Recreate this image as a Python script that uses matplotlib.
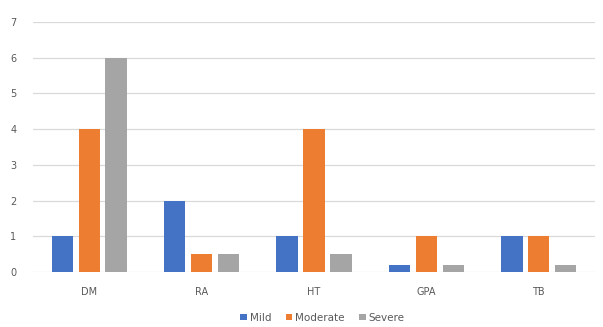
import matplotlib
matplotlib.use('Agg')
import matplotlib.pyplot as plt
import numpy as np

categories = ['DM', 'RA', 'HT', 'GPA', 'TB']
mild = [1, 2, 1, 0.2, 1]
moderate = [4, 0.5, 4, 1, 1]
severe = [6, 0.5, 0.5, 0.2, 0.2]
series = [('Mild', mild, '#4472C4'),
          ('Moderate', moderate, '#ED7D31'),
          ('Severe', severe, '#A5A5A5')]

fig = plt.figure(figsize=(6.03, 3.27), dpi=100)
ax = fig.add_axes([33 / 603, 1 - 272 / 327, 562 / 603, 250 / 327])

x = np.arange(len(categories))
width = 0.19
step = 0.24
for i, (name, vals, color) in enumerate(series):
    ax.bar(x + (i - 1) * step, vals, width, color=color, label=name, zorder=3)

ax.set_xlim(-0.5, len(categories) - 0.5)
ax.set_ylim(0, 7)
ax.set_yticks(range(0, 8))
ax.grid(axis='y', color='#D9D9D9', linewidth=0.9, zorder=0)
ax.set_xticks(x)
ax.set_xticklabels(categories)
for s in ax.spines.values():
    s.set_visible(False)
ax.tick_params(length=0, labelsize=7, colors='#595959', pad=11)
ax.tick_params(axis='y', pad=12)

fig.legend(loc='lower center', ncol=3, frameon=False, fontsize=7.5,
           handlelength=0.6, handleheight=0.6, handletextpad=0.3,
           columnspacing=1.4, bbox_to_anchor=(0.535, -0.015),
           labelcolor='#595959')

fig.savefig('out.png', dpi=100)
